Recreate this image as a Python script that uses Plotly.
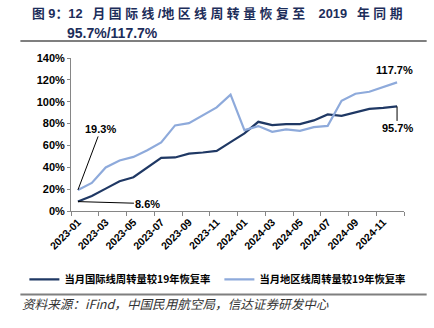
import plotly.graph_objects as go

months = ["2023-01","2023-02","2023-03","2023-04","2023-05","2023-06","2023-07","2023-08",
          "2023-09","2023-10","2023-11","2023-12","2024-01","2024-02","2024-03","2024-04",
          "2024-05","2024-06","2024-07","2024-08","2024-09","2024-10","2024-11","2024-12"]
intl = [8.6, 13.8, 20.5, 27.2, 30.9, 39.8, 48.6, 49.0, 52.5, 53.5, 55.0, 63.0,
        71.0, 81.6, 78.6, 79.5, 79.5, 82.9, 88.4, 87.1, 90.5, 93.5, 94.4, 95.7]
region = [19.3, 25.7, 39.8, 46.2, 49.5, 55.6, 62.7, 78.3, 80.4, 87.5, 94.8, 106.4,
          74.0, 77.7, 72.4, 74.6, 73.4, 76.7, 77.9, 100.8, 107.3, 109.1, 113.7, 117.7]
names = ["当月国际线周转量较19年恢复率", "当月地区线周转量较19年恢复率"]
ytick_vals = [0, 20, 40, 60, 80, 100, 120, 140]
ytick_text = [f"{v}%" for v in ytick_vals]
title_line1 = "图9：12 月国际线/地区线周转量恢复至 2019 年同期"
title_line2 = "95.7%/117.7%"
source = "资料来源：iFind，中国民用航空局，信达证券研发中心"

W, H = 434, 328
L, R, T, B = 70.7, 29.7, 58, 117.3
pw, ph = W - L - R, H - T - B
def px(x): return (x - L) / pw
def py(y): return (H - B - y) / ph

NAVY = "#1f3864"
LIGHT = "#8eaadb"
idx = list(range(len(months)))

fig = go.Figure()
fig.add_trace(go.Scatter(x=idx, y=intl, mode="lines", name=names[0],
                         line=dict(color=NAVY, width=2.2)))
fig.add_trace(go.Scatter(x=idx, y=region, mode="lines", name=names[1],
                         line=dict(color=LIGHT, width=2.2)))

fig.update_layout(
    width=W, height=H, margin=dict(l=L, r=R, t=T, b=B, autoexpand=False),
    plot_bgcolor="white", paper_bgcolor="white",
    showlegend=True,
    legend=dict(orientation="h", x=px(24), y=py(279), xanchor="left", yanchor="middle",
                font=dict(family="Noto Sans CJK SC", size=10.3, color="black", weight="bold"),
                itemwidth=30, entrywidth=150, entrywidthmode="pixels", tracegroupgap=0,
                bgcolor="rgba(0,0,0,0)"),
    xaxis=dict(range=[-0.5, len(months) - 0.5], tickmode="array",
               tickvals=idx[::2], ticktext=months[::2], tickangle=-45,
               ticks="", showline=True, linecolor="#868686", linewidth=1,
               showgrid=False, zeroline=False,
               tickfont=dict(family="Liberation Sans", size=10.5, color="black", weight="bold"),
               minor=dict(tickmode="array", tickvals=[i - 0.5 for i in range(0, len(months) + 1, 2)],
                          ticks="outside", ticklen=4, tickcolor="#868686", showgrid=False)),
    yaxis=dict(range=[0, 140], tickmode="array", tickvals=ytick_vals, ticktext=ytick_text,
               ticks="outside", ticklen=3, tickcolor="#868686",
               showline=True, linecolor="#868686", linewidth=1,
               showgrid=False, zeroline=False,
               tickfont=dict(family="Liberation Sans", size=11, color="black", weight="bold")),
)

ann = dict(family="Liberation Sans", size=11, color="black", weight="bold")
fig.add_annotation(x=0, y=region[0], text="19.3%", showarrow=True, arrowhead=0, arrowwidth=1,
                   arrowcolor="black", ax=23, ay=-61, font=ann)
fig.add_annotation(x=0, y=intl[0], text="8.6%", showarrow=True, arrowhead=0, arrowwidth=1,
                   arrowcolor="black", ax=70, ay=2, font=ann)
fig.add_annotation(x=idx[-1], y=intl[-1], text="95.7%", showarrow=True, arrowhead=0, arrowwidth=1,
                   arrowcolor="black", ax=0, ay=22, font=ann)
fig.add_annotation(x=idx[-1], y=region[-1], text="117.7%", showarrow=False,
                   xshift=-3, yshift=12, font=ann)

# spaced title (justified look as in the reference)
def spaced(s):
    out = ""
    for ch in s:
        if ch == " ":
            out += "\u2002 "
        elif ord(ch) > 0x2E80 and ch != "：":
            out += ch + " "
        else:
            out += ch
    return out.rstrip()

title_font = dict(family="Liberation Sans, Noto Sans CJK SC", size=14, color="#1c2d5a", weight="bold")
fig.add_annotation(xref="paper", yref="paper", x=px(30), y=py(14), xanchor="left", yanchor="middle",
                   text=spaced(title_line1), showarrow=False, font=dict(title_font, size=12.8))
fig.add_annotation(xref="paper", yref="paper", x=px(65), y=py(33), xanchor="left", yanchor="middle",
                   text=title_line2, showarrow=False, font=title_font)
fig.add_annotation(xref="paper", yref="paper", x=px(20), y=py(303), xanchor="left", yanchor="middle",
                   text=source, showarrow=False,
                   font=dict(family="Noto Sans CJK SC", size=12.6, color="#333333", style="italic"))

for yy in (41, 294):
    fig.add_shape(type="line", xref="paper", yref="paper", x0=px(20), x1=px(427),
                  y0=py(yy), y1=py(yy), line=dict(color="#7f7f7f", width=2))

fig.write_html("out.html")
